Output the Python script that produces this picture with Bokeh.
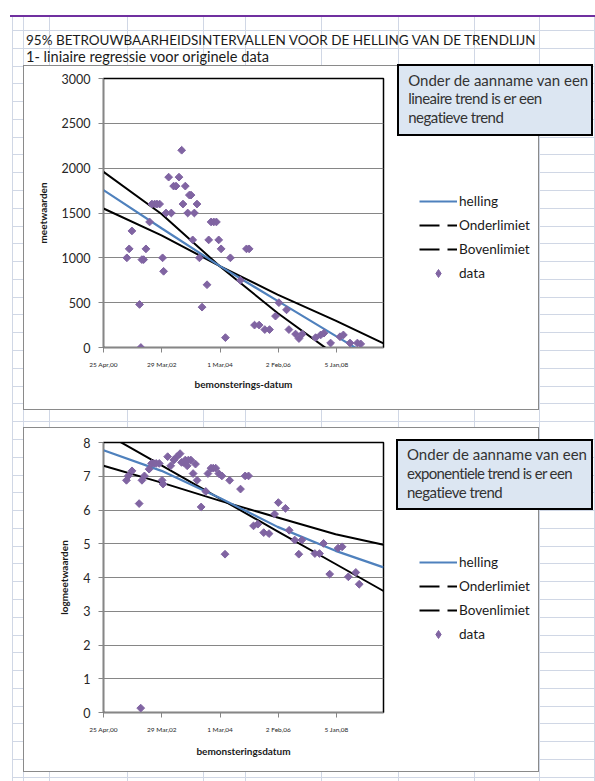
from bokeh.plotting import figure
from bokeh.models import (Legend, LegendItem, FixedTicker, Range1d, Div)
from bokeh.layouts import column
from bokeh.embed import file_html
from bokeh.resources import INLINE

# ---------------- data ----------------
tick_days = [0, 703, 1406, 2109, 2812]          # days since 25 Apr 2000
tick_labels = ["25 Apr,00", "29 Mar,02", "1 Mar,04", "2 Feb,06", "5 Jan,08"]
x_end = 3378

# chart 1: original values
days1 = [282, 310, 343, 435, 451, 463, 484, 512, 556, 584, 617, 645, 677, 713, 725,
         754, 786, 818, 846, 875, 911, 943, 959, 987, 1016, 1036, 1056, 1076, 1096,
         1128, 1157, 1189, 1249, 1269, 1298, 1330, 1362, 1390, 1419, 1471, 1531, 1652,
         1725, 1757, 1822, 1878, 1946, 2003, 2075, 2116, 2208, 2237, 2317, 2358, 2398,
         2559, 2620, 2660, 2740, 2853, 2894, 2974, 3063, 3103]
vals1 = [1000, 1100, 1300, 480, 0, 980, 980, 1100, 1400, 1600, 1600, 1600, 1600, 1000, 850,
         1500, 1900, 1500, 1800, 1800, 1900, 2200, 1600, 1800, 1500, 1700, 1700, 1200, 1500,
         1600, 1000, 450, 700, 1200, 1400, 1400, 1400, 1200, 1100, 110, 1000, 750,
         1100, 1100, 250, 250, 200, 200, 350, 500, 420, 200, 150, 100, 150,
         110, 140, 160, 50, 120, 140, 50, 50, 40]
line_days1 = [0, 700, 1410, 2100, 2800, 3378]
helling1 = [1755, 1330, 905, 520, 130, -190]
onder1 = [1959, 1489, 900, 385, -85, -495]
boven1 = [1550, 1250, 905, 590, 300, 45]
y1_ticks = [0, 500, 1000, 1500, 2000, 2500, 3000]

# chart 2: log values
days2 = [277, 299, 344, 430, 449, 464, 494, 550, 580, 606, 636, 673, 707, 718, 774, 811,
         849, 886, 924, 942, 968, 987, 1010, 1024, 1054, 1081, 1110, 1129, 1178, 1234,
         1260, 1297, 1324, 1354, 1391, 1428, 1466, 1522, 1653, 1709, 1750, 1810, 1862,
         1933, 1997, 2064, 2109, 2195, 2240, 2307, 2356, 2393, 2550, 2606, 2655, 2729,
         2830, 2879, 2954, 3044, 3085]
vals2 = [6.88, 7.01, 7.16, 6.19, 0.13, 6.88, 7.01, 7.21, 7.38, 7.38, 7.38, 7.38, 6.88, 6.77,
         7.58, 7.31, 7.48, 7.58, 7.67, 7.41, 7.41, 7.48, 7.31, 7.48, 7.48, 7.08, 7.36, 6.88,
         6.09, 6.55, 7.08, 7.24, 7.24, 7.24, 7.08, 7.01, 4.69, 6.88, 6.62, 7.01, 7.01, 5.53,
         5.58, 5.33, 5.30, 5.88, 6.22, 6.05, 5.40, 5.11, 4.69, 5.11, 4.71, 4.71, 5.01, 4.10,
         4.87, 4.91, 4.02, 4.15, 3.80]
line_days2 = [0, 700, 1410, 2100, 2800, 3378]
helling2 = [7.77, 7.16, 6.35, 5.50, 4.79, 4.30]
onder2 = [8.30, 7.32, 6.33, 5.37, 4.40, 3.60]
boven2 = [7.31, 6.81, 6.27, 5.78, 5.28, 4.97]
y2_ticks = [0, 1, 2, 3, 4, 5, 6, 7, 8]

title_text = "95% BETROUWBAARHEIDSINTERVALLEN VOOR DE HELLING VAN DE TRENDLIJN"
subtitle_text = "1- liniaire regressie voor originele data"
box1_lines = ["Onder de aanname van een", "lineaire trend is er een", "negatieve trend"]
box2_lines = ["Onder de aanname van een", "exponentiele trend is er een", "negatieve trend"]
legend_names = ["helling", "Onderlimiet", "Bovenlimiet", "data"]

# ---------------- styling ----------------
FONT = "Lato"
GRIDC = "#d0d7e5"
BLUE = "#4f81bd"
PURPLE = "#8064a2"
W, H = 595, 781
H1, H2 = 418, 363
ROW0, ROWH = 30.0, 17.78
COLS = [11.5, 22.5, 49.3, 126.5, 203, 244.5, 320.7, 397.5, 474.4, 539.3, 594]
NAN = float("nan")
LS = {"Onder de aanname van een": 0, "lineaire trend is er een": -0.5,
      "exponentiele trend is er een": -0.65, "negatieve trend": -0.5}


def rect(l, t, w, h, extra):
    return (f'<div style="position:absolute;left:{l}px;top:{t}px;width:{w}px;'
            f'height:{h}px;box-sizing:border-box;{extra}"></div>')


def text(l, cy, s, size, color="#1a1a1a", extra=""):
    return (f'<div style="position:absolute;left:{l}px;top:{cy - 10}px;height:20px;'
            f'line-height:20px;white-space:nowrap;font-family:{FONT};font-size:{size};'
            f'color:{color};{extra}">{s}</div>')


parts = []
k = 0
while ROW0 + ROWH * k < H:
    parts.append(rect(11.5, ROW0 + ROWH * k, W - 11.5, 1, f"background:{GRIDC}"))
    k += 1
for x in COLS:
    parts.append(rect(x, 15.7, 1, H - 15.7, f"background:{GRIDC}"))
parts.append(rect(10, 15, W - 10, 1.6, "background:#7030a0"))
parts.append(text(26, 39.5, title_text, "13.5px"))
parts.append(text(26, 57, subtitle_text, "14.6px"))
for (l, t, r, b) in [(22.7, 65, 539.3, 409.5), (22.7, 427, 539.3, 772)]:
    parts.append(rect(l, t, r - l, b - t, "background:white;border:1px solid #8a8a8a"))
for (l, t, r, b), lines in [((396.7, 64.3, 593.3, 136), box1_lines),
                            ((395.5, 439, 593.3, 510), box2_lines)]:
    parts.append(rect(l, t, r - l, b - t, "background:#dce6f2;border:2px solid black"))
    for i, s in enumerate(lines):
        parts.append(text(l + 11.5, t + 15.3 + 18.6 * i, s, "15px", "#333333",
                          f"letter-spacing:{LS.get(s, 0)}px"))

bg = Div(text='<div style="position:relative;width:%dpx;height:%dpx;overflow:hidden">%s</div>'
         % (W, H, "".join(parts)), width=W, height=H, margin=(0, 0, 0, 0))


def make(days, vals, ldays, hel, ond, bov, ymax, yticks, ylabel, xlabel,
         h, y0, frame, margin, xstandoff):
    fl, ft, fr, fb = frame
    p = figure(width=W, height=h, x_range=Range1d(0, x_end), y_range=Range1d(0, ymax),
               output_backend="svg", toolbar_location=None,
               min_border_left=fl, min_border_right=W - fr,
               min_border_top=ft - y0, min_border_bottom=y0 + h - fb,
               background_fill_color="white", border_fill_color=None,
               outline_line_color="black", outline_line_width=1.5, margin=margin)

    p.xgrid.visible = False
    p.ygrid.grid_line_color = "#868686"
    p.ygrid.ticker = FixedTicker(ticks=yticks)

    p.xaxis.ticker = FixedTicker(ticks=tick_days)
    p.xaxis.major_label_overrides = dict(zip(tick_days, tick_labels))
    p.yaxis.ticker = FixedTicker(ticks=yticks)
    for ax in (p.xaxis, p.yaxis):
        ax.axis_line_color = "#868686"
        ax.major_tick_line_color = "#868686"
        ax.major_tick_out = 5
        ax.major_tick_in = 0
        ax.minor_tick_line_color = None
        ax.major_label_text_font = FONT
        ax.major_label_text_color = "#262626"
        ax.major_label_standoff = 8
        ax.axis_label_text_font = FONT
        ax.axis_label_text_font_style = "bold"
        ax.axis_label_text_font_size = "10px"
        ax.axis_label_text_color = "#1a1a1a"
    p.xaxis.major_label_text_font_size = "6.5px"
    p.yaxis.major_label_text_font_size = "12.5px"
    p.xaxis.axis_label = xlabel
    p.yaxis.axis_label = ylabel
    p.xaxis.axis_label_standoff = xstandoff
    p.yaxis.axis_label_standoff = 10

    p.line(ldays, ond, line_color="black", line_width=2)
    p.line(ldays, bov, line_color="black", line_width=2)
    p.line(ldays, hel, line_color=BLUE, line_width=2.2)
    p.scatter(days, vals, marker="square", angle=0.785398, size=5.5,
              fill_color=PURPLE, line_color=PURPLE)
    return p


def make_legend(margin):
    # legend panel placed beside the chart (keys as in the reference legend)
    q = figure(width=130, height=92, x_range=Range1d(0, 1), y_range=Range1d(0, 1),
               output_backend="svg", toolbar_location=None, min_border=0,
               x_axis_location=None, y_axis_location=None, outline_line_color=None,
               background_fill_color=None, border_fill_color=None, margin=margin)
    q.grid.visible = False
    r_he = q.line([NAN, NAN], [NAN, NAN], line_color=BLUE, line_width=2.2)
    r_on = q.line([NAN, NAN], [NAN, NAN], line_color="black", line_width=2, line_dash="20 8")
    r_bo = q.line([NAN, NAN], [NAN, NAN], line_color="black", line_width=2, line_dash="20 8")
    r_da = q.scatter([NAN], [NAN], marker="diamond", size=8,
                     fill_color=PURPLE, line_color=PURPLE)
    items = [LegendItem(label=n, renderers=[r])
             for n, r in zip(legend_names, [r_he, r_on, r_bo, r_da])]
    lg = Legend(items=items, location="top_left", padding=0, margin=0, spacing=4,
                glyph_width=38, glyph_height=20, label_height=20, label_standoff=2,
                border_line_color=None, background_fill_alpha=0,
                label_text_font=FONT, label_text_font_size="13.6px",
                label_text_color="#1a1a1a")
    q.add_layout(lg)
    return q


p1 = make(days1, vals1, line_days1, helling1, onder1, boven1, 3000, y1_ticks,
          "meetwaarden", "bemonsterings-datum", H1, 0,
          (103, 78, 383, 347), (-H, 0, 0, 0), 7)
leg1 = make_legend((191 - H1, 0, H1 - 191 - 92, 419))
p2 = make(days2, vals2, line_days2, helling2, onder2, boven2, 8, y2_ticks,
          "logmeetwaarden", "bemonsteringsdatum", H2, H1,
          (83, 442, 383, 712), (0, 0, 0, 0), 9)
leg2 = make_legend((552 - H, 0, H - 552 - 92, 419))

layout = column(bg, p1, leg1, p2, leg2, spacing=0)
open("out.html", "w").write(file_html(layout, INLINE))
